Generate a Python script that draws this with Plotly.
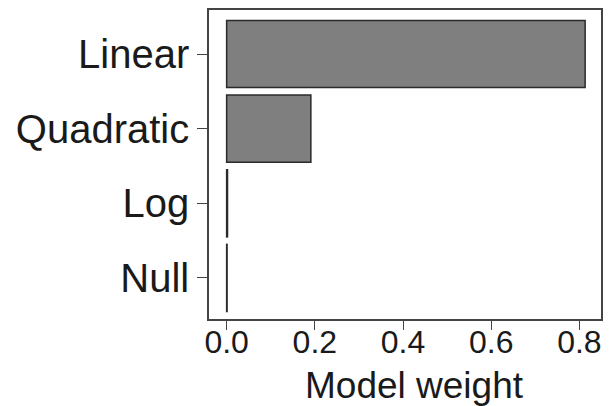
import plotly.graph_objects as go

models = ["Linear", "Quadratic", "Log", "Null"]
weights = [0.813, 0.191, 0.002, 0.001]
x_ticks = [0.0, 0.2, 0.4, 0.6, 0.8]
x_tick_labels = ["0.0", "0.2", "0.4", "0.6", "0.8"]
x_title = "Model weight"

fig = go.Figure(go.Bar(
    x=weights, y=models, orientation="h", width=0.9,
    marker=dict(color="#7f7f7f", line=dict(color="#2b2b2b", width=1.5)),
))

fig.update_layout(
    width=609, height=406,
    margin=dict(l=209, r=8, t=10, b=87),
    paper_bgcolor="white", plot_bgcolor="white",
    font=dict(family="Liberation Sans, Arial, sans-serif", color="#1a1a1a"),
    showlegend=False,
    xaxis=dict(
        range=[-0.040, 0.849], tickvals=x_ticks, ticktext=x_tick_labels,
        ticks="outside", ticklen=9, tickwidth=1.2, tickcolor="#444",
        tickfont=dict(size=32), showgrid=False, zeroline=False,
        showline=True, mirror=True, linecolor="#444", linewidth=1.5,
        automargin=False, ticklabelstandoff=-15,
    ),
    yaxis=dict(
        type="category", categoryorder="array", categoryarray=models,
        range=[3.55, -0.59],
        ticks="outside", ticklen=10, tickwidth=1.2, tickcolor="#444",
        tickfont=dict(size=40), showgrid=False, zeroline=False,
        showline=True, mirror=True, linecolor="#444", linewidth=1.5,
        automargin=False,
    ),
    annotations=[dict(
        text=x_title, xref="paper", yref="paper", x=0.523, y=-0.2136,
        xanchor="center", yanchor="middle", showarrow=False,
        font=dict(size=37, color="#1a1a1a"),
    )],
)

fig.write_html(
    "out.html",
    config={"displayModeBar": False},
    post_script="document.body.style.margin='0';document.body.style.overflow='hidden';",
)
